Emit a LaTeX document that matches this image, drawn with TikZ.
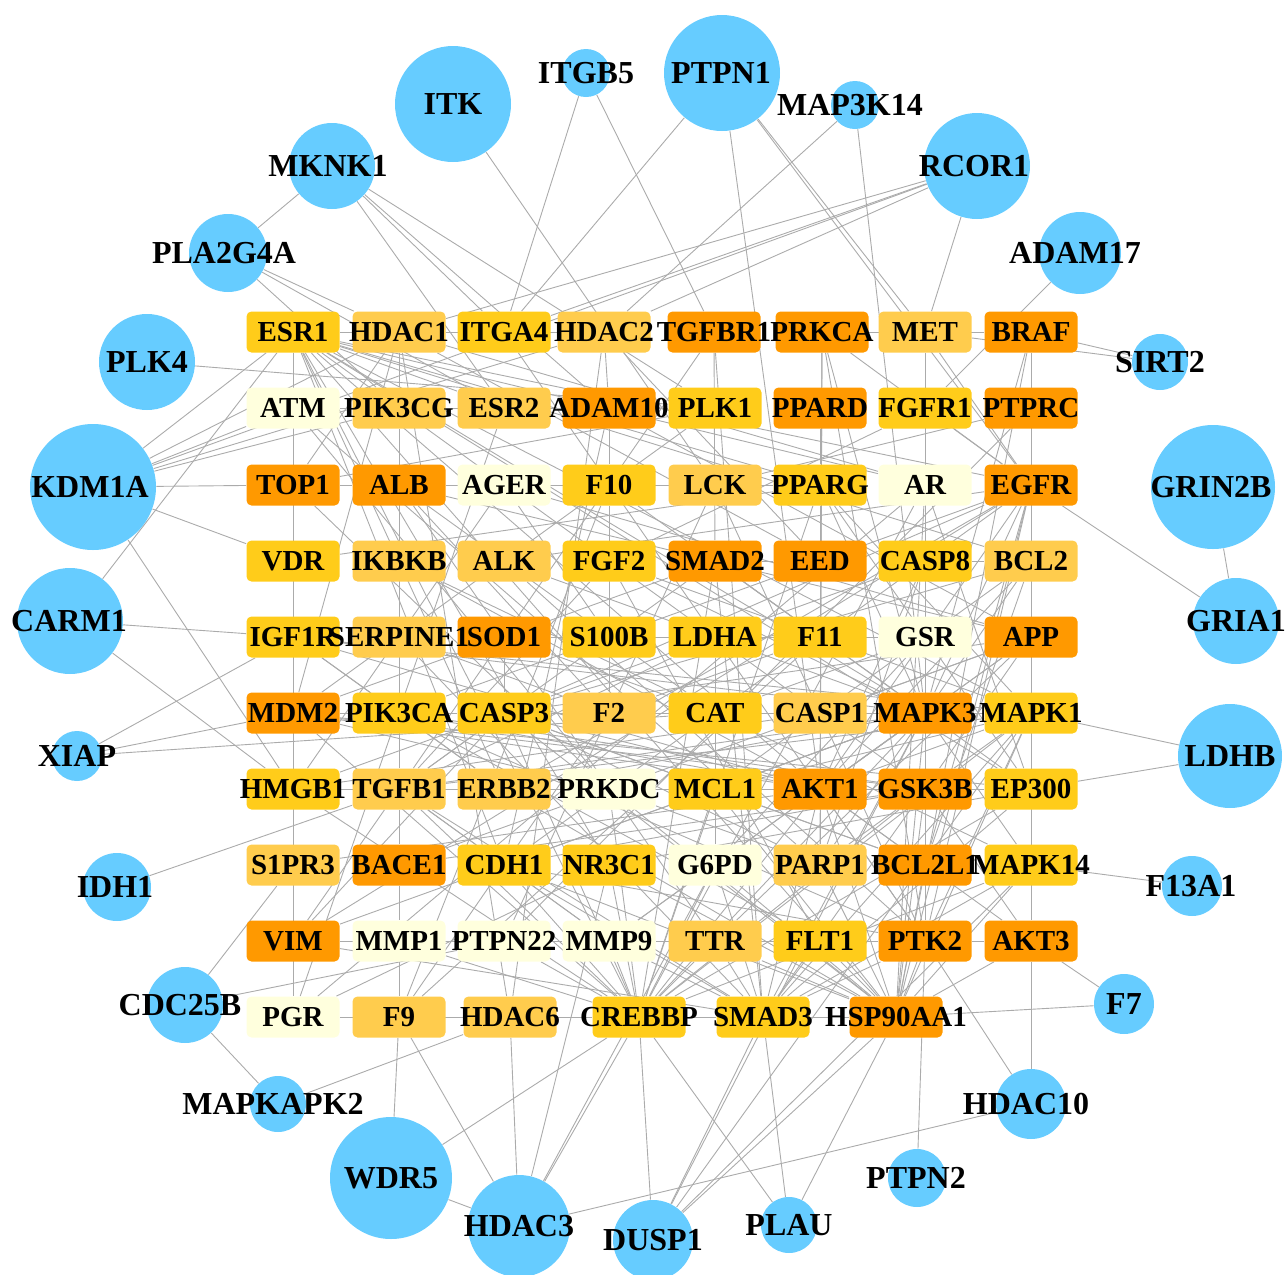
\documentclass[tikz,border=0pt]{standalone}
\usepackage{fontspec}
\setmainfont{Liberation Serif}
\pgfdeclarelayer{background}
\pgfdeclarelayer{foreground}
\pgfsetlayers{background,main,foreground}
\definecolor{degtop}{HTML}{FF9900}
\definecolor{deghigh}{HTML}{FFCC1A}
\definecolor{degmid}{HTML}{FFCC4D}
\definecolor{deglow}{HTML}{FFFFDD}
\definecolor{targetblue}{HTML}{66CCFF}
\tikzset{
  genebox/.style={rectangle,rounded corners=2.5pt,minimum width=46.5pt,minimum height=20.5pt,inner sep=0pt},
  genename/.style={inner sep=0pt,font=\fontsize{14.5}{16}\selectfont\bfseries},
  target/.style={circle,fill=targetblue,inner sep=0pt},
  targetname/.style={inner sep=0pt,font=\fontsize{16}{18}\selectfont\bfseries},
  link/.style={draw=black!33,line width=0.45pt}
}
\newcommand{\placegene}[4]{%
  \node[genebox,fill=#4] (#1) at (#2,#3) {};
  \begin{pgfonlayer}{foreground}\node[genename] (#1-t) at (#1) {#1};\end{pgfonlayer}}
\newcommand{\placetarget}[5]{%
  \node[target,minimum size=#4pt] (#1) at (#2,#3) {};
  \begin{pgfonlayer}{foreground}\node[targetname] (#1-t) at (#5,#3) {#1};\end{pgfonlayer}}
\begin{document}
\begin{tikzpicture}[x=0.5pt,y=-0.5pt]
\useasboundingbox (0,0) rectangle (1287,1275);
\foreach \n/\x/\c in {ESR1/293/deghigh,HDAC1/399/degmid,ITGA4/504/deghigh,HDAC2/604/degmid,TGFBR1/714/degtop,PRKCA/822/degtop,MET/925/degmid,BRAF/1031/degtop}
  {\placegene{\n}{\x}{332}{\c}}
\foreach \n/\x/\c in {ATM/293/deglow,PIK3CG/399/degmid,ESR2/504/degmid,ADAM10/609/degtop,PLK1/715/deghigh,PPARD/820/degtop,FGFR1/925/deghigh,PTPRC/1031/degtop}
  {\placegene{\n}{\x}{408}{\c}}
\foreach \n/\x/\c in {TOP1/293/degtop,ALB/399/degtop,AGER/504/deglow,F10/609/deghigh,LCK/715/degmid,PPARG/820/deghigh,AR/925/deglow,EGFR/1031/degtop}
  {\placegene{\n}{\x}{485}{\c}}
\foreach \n/\x/\c in {VDR/293/deghigh,IKBKB/399/degmid,ALK/504/degmid,FGF2/609/deghigh,SMAD2/715/degtop,EED/820/degtop,CASP8/925/deghigh,BCL2/1031/degmid}
  {\placegene{\n}{\x}{561}{\c}}
\foreach \n/\x/\c in {IGF1R/293/deghigh,SERPINE1/399/degmid,SOD1/504/degtop,S100B/609/deghigh,LDHA/715/deghigh,F11/820/deghigh,GSR/925/deglow,APP/1031/degtop}
  {\placegene{\n}{\x}{637}{\c}}
\foreach \n/\x/\c in {MDM2/293/degtop,PIK3CA/399/deghigh,CASP3/504/deghigh,F2/609/degmid,CAT/715/deghigh,CASP1/820/degmid,MAPK3/925/degtop,MAPK1/1031/deghigh}
  {\placegene{\n}{\x}{713}{\c}}
\foreach \n/\x/\c in {HMGB1/293/deghigh,TGFB1/399/degmid,ERBB2/504/degmid,PRKDC/609/deglow,MCL1/715/deghigh,AKT1/820/degtop,GSK3B/925/degtop,EP300/1031/deghigh}
  {\placegene{\n}{\x}{789}{\c}}
\foreach \n/\x/\c in {S1PR3/293/degmid,BACE1/399/degtop,CDH1/504/deghigh,NR3C1/609/deghigh,G6PD/715/deglow,PARP1/820/degmid,BCL2L1/925/degtop,MAPK14/1031/deghigh}
  {\placegene{\n}{\x}{865}{\c}}
\foreach \n/\x/\c in {VIM/293/degtop,MMP1/399/deglow,PTPN22/504/deglow,MMP9/609/deglow,TTR/715/degmid,FLT1/820/deghigh,PTK2/925/degtop,AKT3/1031/degtop}
  {\placegene{\n}{\x}{941}{\c}}
\foreach \n/\x/\c in {PGR/293/deglow,F9/399/degmid,HDAC6/510/degmid,CREBBP/639/deghigh,SMAD3/763/deghigh,HSP90AA1/896/degtop}
  {\placegene{\n}{\x}{1017}{\c}}
\foreach \n/\x/\y/\r/\lx in {ITK/453/104/58/453,ITGB5/586/73/24/586,PTPN1/722/73/58/721,MAP3K14/855/105/24/850,
  RCOR1/977/166/53/974,ADAM17/1080/253/41/1075,SIRT2/1160/362/28/1160,GRIN2B/1213/487/62/1211,
  GRIA1/1236/621/43/1236,LDHB/1230/756/52/1230,F13A1/1192/886/30/1191,F7/1124/1004/30/1124,
  HDAC10/1031/1104/35/1026,PTPN2/917/1178/29/916,PLAU/789/1225/28/789,DUSP1/653/1240/40/653,
  HDAC3/519/1226/51/519,WDR5/391/1178/61/391,MAPKAPK2/278/1104/28/273,CDC25B/185/1005/38/180,
  IDH1/117/887/34/115,XIAP/77/756/25/77,CARM1/70/621/53/69,KDM1A/93/487/63/90,
  PLK4/147/362/48/147,PLA2G4A/228/253/39/224,MKNK1/332/166/43/328}
  {\placetarget{\n}{\x}{\y}{\r}{\lx}}
\begin{pgfonlayer}{background}
\foreach \a/\b in {MKNK1/PLA2G4A,MKNK1/ITGA4,MKNK1/ADAM10,MKNK1/ESR2,MKNK1/PLK1,PLA2G4A/HDAC1,PLA2G4A/PIK3CG,PLA2G4A/ESR2,
  ITK/LCK,ITGB5/ITGA4,ITGB5/TGFBR1,PTPN1/ITGA4,PTPN1/AKT1,PTPN1/MET,PTPN1/EGFR,MAP3K14/HDAC2,MAP3K14/MAPK3,
  RCOR1/HDAC1,RCOR1/ITGA4,RCOR1/HDAC2,RCOR1/MET,RCOR1/KDM1A,ADAM17/FGFR1,SIRT2/BRAF,SIRT2/MET,
  GRIA1/EGFR,GRIA1/GRIN2B,LDHB/MAPK1,LDHB/EP300,F13A1/MAPK14,F7/AKT3,F7/HSP90AA1,HDAC10/AKT3,HDAC10/PTK2,
  HDAC10/HDAC3,PTPN2/PTK2,PLAU/SMAD3,PLAU/HSP90AA1,PLAU/CREBBP,DUSP1/CREBBP,DUSP1/MAPK14,DUSP1/MAPK3,
  DUSP1/MAPK1,DUSP1/HSP90AA1,DUSP1/SMAD3,HDAC3/F9,HDAC3/HDAC6,HDAC3/CREBBP,HDAC3/NR3C1,HDAC3/G6PD,HDAC3/WDR5,
  WDR5/F9,WDR5/CREBBP,MAPKAPK2/HDAC6,MAPKAPK2/CDC25B,CDC25B/S1PR3,CDC25B/PTPN22,IDH1/TGFB1,
  XIAP/IGF1R,XIAP/MDM2,XIAP/CAT,CARM1/ESR1,CARM1/IGF1R,CARM1/HMGB1,KDM1A/ESR1,KDM1A/ATM,KDM1A/HDAC1,
  KDM1A/HDAC2,KDM1A/PIK3CG,KDM1A/TOP1,KDM1A/VDR,KDM1A/HMGB1,PLK4/PLK1}
  \draw[link] (\a) -- (\b);
\foreach \a/\b in {ESR1/ATM,ATM/TOP1,TOP1/VDR,VDR/IGF1R,IGF1R/MDM2,MDM2/HMGB1,HMGB1/S1PR3,S1PR3/VIM,VIM/PGR,
  HDAC1/PIK3CG,PIK3CG/ALB,ALB/IKBKB,IKBKB/SERPINE1,SERPINE1/PIK3CA,PIK3CA/TGFB1,TGFB1/BACE1,BACE1/MMP1,MMP1/F9,
  HDAC2/ADAM10,ADAM10/F10,F10/FGF2,FGF2/S100B,S100B/F2,AR/CASP8,CASP8/GSR,GSR/MAPK3,
  BRAF/PTPRC,PTPRC/EGFR,EGFR/BCL2,BCL2/APP,APP/MAPK1,MAPK1/EP300,EP300/MAPK14,MAPK14/AKT3,
  ESR1/HDAC1,HDAC1/ITGA4,ITGA4/HDAC2,MET/BRAF,TOP1/ALB,PGR/F9,F9/HDAC6,HDAC6/CREBBP,CREBBP/SMAD3,SMAD3/HSP90AA1}
  \draw[link] (\a) -- (\b);
\foreach \a/\b in {AKT1/GSK3B,AKT1/MDM2,AKT1/PIK3CA,AKT1/EGFR,AKT1/HSP90AA1,AKT1/CASP3,AKT1/MCL1,AKT1/BCL2L1,
  AKT1/PTK2,AKT1/MAPK1,AKT1/MAPK3,AKT1/ESR1,AKT1/CREBBP,AKT1/TGFB1,AKT1/BCL2,AKT1/PPARG,AKT1/IGF1R,AKT1/HMGB1,
  AKT1/APP,AKT1/SMAD3,AKT1/ERBB2,AKT1/PRKCA,AKT1/PARP1,AKT1/CASP8,AKT1/AKT3,AKT1/EP300,AKT1/IKBKB,AKT1/S1PR3,
  MAPK3/MAPK1,MAPK3/EGFR,MAPK3/BRAF,MAPK3/PRKCA,MAPK3/MAPK14,MAPK3/CASP3,MAPK3/SMAD2,MAPK3/SMAD3,MAPK3/ESR1,
  MAPK3/TGFB1,MAPK3/FGF2,MAPK3/PTK2,MAPK3/MCL1,MAPK3/GSK3B,MAPK3/ERBB2,MAPK3/HSP90AA1,MAPK3/CREBBP,
  MAPK3/PPARG,MAPK3/IGF1R,MAPK3/MMP9,MAPK3/VIM,MAPK3/CDH1,MAPK3/ALK,
  GSK3B/MAPK1,GSK3B/APP,GSK3B/MCL1,GSK3B/PIK3CA,GSK3B/CREBBP,GSK3B/HSP90AA1,GSK3B/TGFB1,GSK3B/MDM2,
  GSK3B/CDH1,GSK3B/BACE1,GSK3B/PTK2,GSK3B/AKT3,GSK3B/SMAD3,GSK3B/EP300,GSK3B/ESR1,GSK3B/PARP1,
  HSP90AA1/EGFR,HSP90AA1/ERBB2,HSP90AA1/ESR1,HSP90AA1/PTK2,HSP90AA1/FLT1,HSP90AA1/TTR,HSP90AA1/MAPK1,
  HSP90AA1/CASP3,HSP90AA1/PARP1,HSP90AA1/BCL2L1,HSP90AA1/AR,HSP90AA1/PRKDC,HSP90AA1/MCL1,HSP90AA1/G6PD,
  HSP90AA1/NR3C1,HSP90AA1/BRAF,HSP90AA1/CDH1,HSP90AA1/AKT3,HSP90AA1/MAPK14,
  CREBBP/EP300,CREBBP/SMAD2,CREBBP/ESR1,CREBBP/PPARG,CREBBP/MDM2,CREBBP/HMGB1,CREBBP/NR3C1,CREBBP/AR,
  CREBBP/CDH1,CREBBP/MMP9,CREBBP/PTPN22,CREBBP/TGFB1,CREBBP/PRKDC,CREBBP/MCL1,CREBBP/G6PD,CREBBP/CASP3,
  CREBBP/MAPK1,CREBBP/MAPK14,CREBBP/TTR,CREBBP/PGR,CREBBP/MMP1,
  SMAD3/SMAD2,SMAD3/TGFB1,SMAD3/TGFBR1,SMAD3/EP300,SMAD3/MAPK1,SMAD3/MAPK14,SMAD3/CDH1,SMAD3/VIM,
  SMAD3/FLT1,SMAD3/TTR,SMAD3/MMP9,SMAD3/PTK2,SMAD3/SERPINE1,SMAD3/G6PD}
  \draw[link] (\a) -- (\b);
\foreach \a/\b in {EGFR/ERBB2,EGFR/PTK2,EGFR/MAPK1,EGFR/FGFR1,EGFR/MET,EGFR/CASP3,EGFR/CDH1,EGFR/ESR1,EGFR/AKT3,
  EGFR/MAPK14,EGFR/EP300,EGFR/PIK3CA,EGFR/BCL2L1,EGFR/VIM,EGFR/PRKCA,EGFR/ALK,
  MAPK1/MAPK14,MAPK1/PTK2,MAPK1/BRAF,MAPK1/CASP3,MAPK1/ESR1,MAPK1/MCL1,MAPK1/PPARG,MAPK1/TGFB1,MAPK1/FGF2,
  EP300/SMAD2,EP300/ESR1,EP300/PPARG,EP300/AR,EP300/HMGB1,EP300/MDM2,EP300/PRKDC,EP300/NR3C1,
  CASP3/CASP8,CASP3/CASP1,CASP3/PARP1,CASP3/BCL2,CASP3/BCL2L1,CASP3/MCL1,CASP3/APP,CASP3/SOD1,CASP3/CAT,
  CASP3/HMGB1,CASP3/MDM2,CASP3/PIK3CA,CASP3/VIM,CASP3/TGFB1,CASP3/F2,
  ESR1/ESR2,ESR1/PGR,ESR1/AR,ESR1/PPARG,ESR1/IGF1R,ESR1/MDM2,ESR1/ERBB2,ESR1/NR3C1,ESR1/VDR,ESR1/CDH1,ESR1/BCL2,
  PIK3CA/PIK3CG,PIK3CA/ERBB2,PIK3CA/PTK2,PIK3CA/IGF1R,PIK3CA/MDM2,
  TGFB1/TGFBR1,TGFB1/SMAD2,TGFB1/SERPINE1,TGFB1/VIM,TGFB1/MMP9,TGFB1/CDH1,TGFB1/FGF2,TGFB1/ALB,TGFB1/LDHA,
  SMAD2/TGFBR1,SMAD2/EED,BCL2/BCL2L1,BCL2/MCL1,BCL2/CASP8,BCL2/PARP1,
  MDM2/ATM,MDM2/PRKDC,MDM2/HDAC1,MDM2/SMAD2,MDM2/PLK1,
  PTK2/ITGA4,PTK2/FLT1,PTK2/ALK,PTK2/PRKCA,PTK2/LCK,PTK2/CDH1,PTK2/MMP9,PTK2/FGFR1,PTK2/MET,PTK2/AKT3,
  HDAC1/HDAC2,HDAC1/EED,HDAC1/TOP1,HDAC1/AR,HDAC1/HDAC6,HDAC2/EED,HDAC2/HDAC6,PRKCA/BRAF,PRKCA/PARP1,
  PLK1/ATM,PLK1/TOP1,ATM/PRKDC,ATM/PARP1,TOP1/PRKDC,ALB/CAT,ALB/APP,ALB/TTR,ALB/F2,ALB/AGER,
  AGER/HMGB1,AGER/S100B,AGER/APP,F10/F2,F10/F9,F10/F11,F2/F11,F2/F9,F2/SERPINE1,F11/F9,LCK/PTPRC,
  PPARG/PPARD,PPARG/VDR,PPARG/ALB,FGFR1/FGF2,FGF2/FLT1,CAT/SOD1,CAT/GSR,SOD1/GSR,G6PD/GSR,G6PD/CAT,
  LDHA/G6PD,MMP9/MMP1,MMP9/CDH1,MMP9/VIM,MMP9/APP,BACE1/APP,IKBKB/MAPK14,CASP8/PARP1,CASP1/HMGB1,
  MCL1/BCL2L1,NR3C1/PGR,PGR/ESR2,PGR/AR,IGF1R/ERBB2,IGF1R/MAPK1,APP/CASP1,PTPN22/LCK,PTPN22/PTPRC,
  TTR/APP,FLT1/PIK3CA,PRKDC/PARP1,ADAM10/APP,ADAM10/CDH1}
  \draw[link] (\a) -- (\b);
\end{pgfonlayer}
\end{tikzpicture}
\end{document}
